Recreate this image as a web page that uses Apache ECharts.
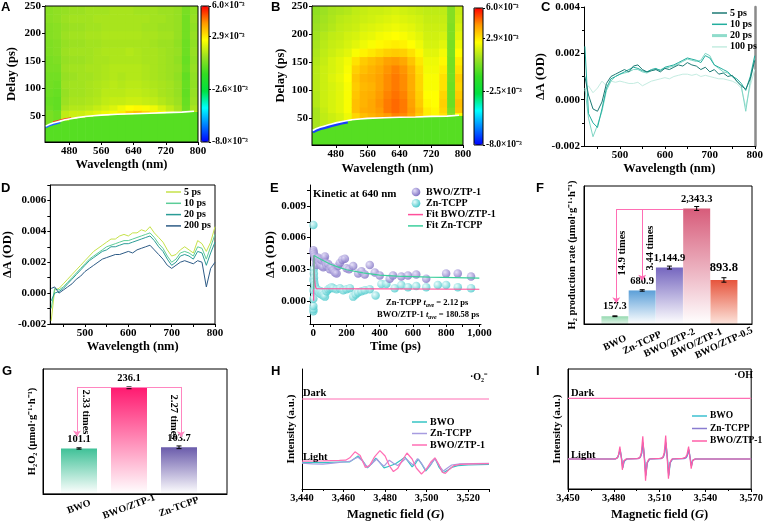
<!DOCTYPE html>
<html>
<head>
<meta charset="utf-8">
<script src="https://cdn.jsdelivr.net/npm/echarts@6/dist/echarts.min.js"></script>
<style>
html, body { margin: 0; padding: 0; background: #fff; }
#main { width: 766px; height: 522px; }
</style>
</head>
<body>
<div id="main"></div>
<script>
// ---------- data ----------
// A / B : transient absorption maps, values in 1e-3 OD
var heatWavelengthEdges = [420,440,460,480,500,520,540,560,580,600,620,640,660,680,700,720,740,760,780,800];
var chirpA = [34,38,42,45,47,49,50.5,51.5,52.5,53,53.5,54,54.5,55,55.5,56,56.5,57,58];
var chirpB = [31,35,40,43,46,48,49.5,50,50.5,51,51.5,52,52,52.5,53,53,53.5,54,55];
var belowChirpA = -0.4;
var belowChirpB = -0.4;
// top edge of each delay band above the chirp
var delayBands = [60,70,85,100,115,130,145,160,175,190,205,220,235,250];
var heatRowsA = [
  [0.2,0.0,1.4,1.6,1.6,1.8,2.0,2.2,2.4,2.8,3.3,3.6,3.2,2.8,2.4,1.8,1.2,0.2,1.5],
  [0.0,-0.2,1.0,1.2,1.2,1.3,1.5,1.7,1.9,2.2,2.5,2.6,2.4,2.2,1.8,1.4,1.0,0.0,1.0],
  [-0.1,-0.2,0.8,1.0,1.0,1.1,1.2,1.4,1.5,1.5,1.6,1.6,1.5,1.4,1.2,1.0,0.8,-0.1,0.8],
  [0.0,-0.1,0.7,0.9,0.9,1.0,1.1,1.3,1.3,1.3,1.4,1.4,1.3,1.2,1.0,0.9,0.7,-0.2,0.7],
  [0.1,0.0,0.8,0.9,0.9,1.0,1.1,1.2,1.3,1.2,1.3,1.3,1.2,1.1,1.0,0.9,0.7,-0.1,0.6],
  [0.1,0.1,0.7,0.8,0.9,0.9,1.0,1.1,1.2,1.1,1.2,1.2,1.1,1.0,0.9,0.8,0.6,-0.2,0.6],
  [0.2,0.2,0.8,0.9,0.9,1.0,1.0,1.1,1.2,1.2,1.2,1.2,1.1,1.0,0.9,0.8,0.7,0.0,0.7],
  [0.2,0.3,0.7,0.8,0.8,0.9,1.0,1.0,1.1,1.1,1.1,1.1,1.0,1.0,0.9,0.8,0.6,-0.1,0.6],
  [0.3,0.4,0.8,0.9,0.9,0.9,1.0,1.1,1.1,1.1,1.2,1.1,1.0,1.0,0.9,0.8,0.7,0.0,0.7],
  [0.3,0.4,0.7,0.8,0.8,0.9,0.9,1.0,1.0,1.0,1.0,1.0,1.0,0.9,0.8,0.8,0.6,0.0,0.6],
  [0.4,0.5,0.8,0.9,0.9,1.0,1.0,1.1,1.1,1.1,1.1,1.1,1.0,1.0,0.9,0.9,0.7,0.1,0.7],
  [0.4,0.5,0.7,0.8,0.8,0.9,0.9,1.0,1.0,1.0,1.0,1.0,0.9,0.9,0.8,0.8,0.7,0.1,0.6],
  [0.5,0.6,0.8,0.9,0.9,0.9,1.0,1.0,1.0,1.0,1.0,1.0,1.0,0.9,0.9,0.8,0.7,0.1,0.7],
  [0.5,0.6,0.7,0.8,0.8,0.9,0.9,0.9,1.0,1.0,1.0,0.9,0.9,0.9,0.8,0.8,0.7,0.2,0.6]
];
var heatRowsB = [
  [1.0,1.4,1.6,1.8,2.2,3.2,3.6,3.8,4.0,4.2,4.5,4.4,4.0,3.4,2.8,2.6,3.0,0.5,2.5],
  [1.0,1.5,1.8,2.0,2.4,3.6,3.9,4.0,4.2,4.6,4.8,4.6,4.2,3.6,2.8,2.6,3.2,0.2,3.5],
  [1.2,1.6,1.8,2.0,2.4,3.6,3.8,4.0,4.3,4.6,4.8,4.6,4.1,3.4,2.6,2.5,3.3,0.0,3.6],
  [1.2,1.6,1.8,2.0,2.4,3.5,3.8,3.9,4.2,4.5,4.7,4.5,4.0,3.3,2.5,2.5,3.2,0.0,3.4],
  [1.3,1.6,1.8,2.0,2.4,3.4,3.7,3.8,4.1,4.4,4.6,4.4,3.9,3.2,2.4,2.4,3.0,0.0,3.2],
  [1.3,1.6,1.9,2.1,2.5,3.5,3.8,3.9,4.1,4.4,4.6,4.4,3.9,3.2,2.4,2.4,3.0,0.1,3.3],
  [1.3,1.6,1.8,2.0,2.4,3.3,3.6,3.8,4.0,4.3,4.5,4.3,3.8,3.1,2.3,2.3,2.8,0.1,3.0],
  [1.2,1.5,1.8,2.0,2.3,3.0,3.4,3.6,3.8,4.1,4.2,4.0,3.5,2.9,2.2,2.2,2.6,0.1,2.8],
  [1.1,1.4,1.6,1.8,2.0,2.4,2.7,2.9,3.1,3.3,3.4,3.3,3.0,2.6,2.0,2.0,2.3,0.2,2.5],
  [1.0,1.3,1.5,1.6,1.8,2.0,2.2,2.4,2.6,2.7,2.8,2.7,2.5,2.2,1.8,1.8,2.0,0.2,2.2],
  [0.9,1.2,1.4,1.5,1.7,1.8,2.0,2.1,2.3,2.4,2.5,2.4,2.2,2.0,1.7,1.7,1.8,0.3,2.0],
  [0.8,1.0,1.2,1.4,1.5,1.6,1.8,1.9,2.0,2.1,2.2,2.1,2.0,1.8,1.6,1.6,1.6,0.3,1.8],
  [0.7,0.9,1.1,1.3,1.4,1.5,1.6,1.7,1.8,1.9,2.0,1.9,1.8,1.7,1.5,1.5,1.5,0.4,1.6],
  [0.6,0.8,1.0,1.1,1.2,1.4,1.5,1.6,1.6,1.7,1.8,1.7,1.6,1.5,1.4,1.4,1.4,0.4,1.5]
];
var chirpLineA = [[422,31],[430,34],[440,36.5],[450,38.5],[460,40.5],[470,42.5],[480,44],[500,46.5],[520,48.5],[540,50],[560,51],[600,52.5],[640,53.5],[680,54.5],[720,55.5],[760,56.5],[790,58]];
var chirpBlueA = [[422,29],[430,32],[440,34.5],[450,36.5],[458,38]];
var chirpRedA = [[440,38.5],[455,41.5],[470,44],[485,46]];
var chirpLineB = [[422,28],[430,31],[440,33.5],[450,35.5],[460,37.5],[470,39.5],[480,41.5],[500,44.5],[520,47],[540,48.5],[560,49.5],[600,50.5],[640,51.5],[680,52],[720,53],[760,53.5],[790,55]];
var chirpBlueB = [[422,25],[430,28],[440,30.5],[450,32.5],[460,34.5],[470,36.5],[480,38.5],[495,41],[510,43]];
var colorbarTicksA = [6, 2.9, -2.6, -8];
var colorbarTicksB = [6, 2.9, -2.5, -8];

// C / D : spectra, 1e-3 OD
var specWl = [422,430,440,450,460,470,480,490,500,510,520,530,540,550,560,570,580,590,600,610,620,630,640,650,660,670,680,690,700,710,720,730,740,750,760,770,780,790,800];
var c5ps   = [1.0,0.2,-0.4,-0.5,-0.1,0.7,1.0,1.1,1.2,1.3,1.2,1.45,1.5,1.3,1.2,1.25,1.3,1.2,1.35,1.3,1.4,1.5,1.45,1.6,1.5,1.45,1.3,1.4,1.2,1.3,1.1,1.15,1.0,1.05,0.8,0.6,0.45,0.9,1.7];
var c10ps  = [2.3,-0.6,-1.0,-1.2,-0.4,0.5,0.9,1.0,1.1,1.2,1.3,1.4,1.35,1.25,1.2,1.3,1.35,1.25,1.4,1.45,1.5,1.6,1.7,1.8,1.75,1.7,1.6,1.9,1.8,1.5,1.4,1.3,1.2,1.0,0.9,0.7,0.4,1.0,1.9];
var c20ps  = [0.5,-0.8,-1.6,-1.1,-0.5,0.4,0.8,1.0,1.1,1.15,1.2,1.3,1.3,1.2,1.15,1.25,1.3,1.3,1.35,1.4,1.45,1.55,1.65,1.75,1.7,1.65,1.7,2.0,1.9,1.5,1.35,1.2,1.15,1.0,0.8,0.6,-0.5,0.8,1.8];
var c100ps = [0.4,0.6,0.3,0.5,0.8,0.6,0.8,0.75,0.8,0.75,0.7,0.7,0.75,0.6,0.7,0.8,0.85,0.9,0.95,0.9,1.0,1.05,1.1,1.1,1.05,1.1,1.0,1.05,1.0,0.95,0.9,0.9,0.85,0.8,0.7,0.5,-0.3,0.6,1.3];
var d5ps   = [-1.8,0.2,0.3,0.6,0.9,1.2,1.5,1.8,2.1,2.4,2.7,2.9,3.1,3.3,3.5,3.5,3.7,3.8,3.7,3.9,3.9,4.1,4.0,4.3,3.9,3.6,3.3,2.8,2.4,2.5,2.8,3.0,2.8,2.6,3.4,3.2,2.7,3.3,4.3];
var d10ps  = [-1.0,0.3,0.2,0.4,0.7,1.0,1.3,1.6,1.9,2.2,2.4,2.6,2.8,3.0,3.1,3.2,3.3,3.4,3.4,3.5,3.6,3.7,3.8,3.9,3.6,3.2,2.9,2.4,2.0,2.2,2.6,2.7,2.6,2.4,3.0,2.9,2.2,3.0,3.8];
var d20ps  = [-0.5,0.0,0.1,0.3,0.6,0.9,1.2,1.5,1.8,2.1,2.3,2.5,2.7,2.8,3.0,3.0,3.1,3.2,3.2,3.3,3.4,3.5,3.6,3.7,3.4,3.0,2.7,2.2,1.8,2.0,2.4,2.5,2.4,2.2,2.7,2.6,1.8,2.6,3.3];
var d200ps = [0.3,0.4,0.0,0.2,0.4,0.6,0.9,1.1,1.4,1.6,1.8,2.0,2.2,2.3,2.4,2.5,2.5,2.6,2.7,2.6,2.8,2.9,3.0,3.1,2.8,2.5,2.2,1.8,1.6,1.8,2.0,2.1,2.0,1.9,2.1,2.0,0.4,1.6,2.0];

// E : kinetics at 640 nm, 1e-3 OD
var ztpTime = [0,2,5,8,12,16,20,25,30,35,40,45,50,55,60,65,70,75,80,90,100,110,120,130,140,150,160,175,190,200,215,240,270,290,310,340,370,400,460,480,530,570,620,680,800,870,950];
var ztpVal  = [4.8,4.6,4.4,4.2,4.0,3.6,3.4,3.9,4.1,3.7,3.5,3.9,3.3,3.8,3.2,4.0,4.2,3.6,3.3,3.5,3.0,3.2,2.9,2.7,2.6,3.3,3.6,3.9,4.0,3.1,3.0,3.3,2.6,2.8,2.5,3.4,2.7,2.4,2.1,2.4,2.3,2.4,2.5,2.1,2.6,2.6,2.3];
var znTime  = [0,0,0,0,0,0,0,2,3,4,5,8,12,16,20,25,30,35,40,45,50,55,60,65,70,80,90,100,110,120,140,160,180,200,220,240,255,270,290,310,340,375,410,440,490,530,570,620,680,750,800,870,950];
var znVal   = [7.2,-1.0,-0.8,-0.5,0.2,1.0,2.0,3.0,2.6,2.2,1.8,1.5,1.3,1.1,1.0,0.9,1.0,0.8,0.7,0.9,0.6,0.8,0.5,0.6,0.4,0.9,1.1,1.2,1.3,1.2,1.1,1.2,1.0,1.1,1.2,0.4,0.6,0.8,0.9,1.0,1.1,0.5,1.6,1.6,1.2,1.5,1.3,1.4,1.3,1.5,1.5,1.3,1.2];
var fitZtp = [[2,0],[3,4.3],[5,3.0],[8,2.0],[12,1.4],[18,1.15],[30,1.1],[1000,1.1]];
var fitZn  = [[3,1.1],[4,4.3],[50,3.9],[100,3.5],[150,3.2],[200,2.95],[300,2.65],[400,2.45],[500,2.35],[700,2.25],[1000,2.15]];

// F : H2 production rate
var h2Names  = ['BWO','Zn-TCPP','BWO/ZTP-2','BWO/ZTP-1','BWO/ZTP-0.5'];
var h2Rates  = [157.3, 680.9, 1144.9, 2343.3, 893.8];
var h2Errors = [8, 15, 30, 40, 45];
var h2Colors = [['#95d9b0','#e3f5ea'],['#5b9fd8','#ffffff'],['#7566bf','#ffffff'],['#d75c7a','#ffffff'],['#e6543c','#fce4dc']];

// G : H2O2 production
var h2o2Names  = ['BWO','BWO/ZTP-1','Zn-TCPP'];
var h2o2Rates  = [101.1, 236.1, 103.7];
var h2o2Errors = [1.5, 2, 3];
var h2o2Colors = [['#3fc197','#ffffff'],['#ff1a70','#ffffff'],['#6a5bab','#ffffff']];

// H : DMPO-O2- EPR (a.u.)
var hBWO = [[3440,22],[3450,22],[3458,22.5],[3463,22.6],[3465,25],[3467,27.6],[3469,24],[3471.5,17.6],[3473.5,21],[3475.5,25.7],[3477.5,22],[3479.5,17.6],[3482,19],[3485,21],[3487.5,24],[3489.5,26.5],[3491.5,22],[3493,18.5],[3494.5,21],[3496,25],[3497.5,21],[3499.5,15],[3501.5,19],[3504,25.7],[3506,18],[3508,13.6],[3510,15.5],[3512,18],[3515,19.5],[3520,20],[3530,20.5]];
var hZn = [[3440,21.5],[3445,21],[3450,20.8],[3455,21.5],[3460,22.5],[3463,23],[3465,25],[3467,26.5],[3469,23.5],[3471.5,18],[3473.5,21],[3476,25],[3478,21],[3479.5,19],[3482,24],[3484,21.5],[3486,19.5],[3488,22.5],[3490,25.5],[3492,22],[3493.5,20],[3495.5,25.2],[3497.5,21.5],[3499.5,16],[3501.5,19.5],[3504,25.3],[3506,19.5],[3508,15],[3510,17.5],[3512,20],[3516,21],[3522,21.2],[3530,21.3]];
var hZTP = [[3440,23.2],[3450,23.5],[3458,23.8],[3461,24],[3463,26],[3465.5,31],[3468,28],[3470.5,18],[3472.5,19.5],[3475,27],[3477.5,32],[3480,27.5],[3482,19.5],[3484,14.5],[3486,17],[3488,23],[3490.5,30],[3493,25],[3495,17.5],[3497.5,12.5],[3500,17],[3502,22.5],[3504,26],[3506,20],[3507.5,14],[3509,13],[3511,16.5],[3513,19.5],[3516,20.5],[3522,21],[3530,21.2]];
var hDark = [[3440,75],[3530,75]];

// I : DMPO-OH EPR (a.u.)
var iBWO = [[3450,25],[3481,25],[3482.5,26.5],[3483.3,29],[3484.2,32.6],[3485.2,25],[3485.9,17.5],[3486.8,23],[3488.5,25],[3496,25.5],[3497.5,27],[3498.3,30],[3499.2,38],[3500.2,25],[3501,11],[3502,22],[3503.5,25],[3511,25.5],[3512.5,27],[3513.3,30],[3514.2,38],[3515.2,25],[3516,11],[3517,22],[3518.5,25],[3526,25.5],[3527.5,26.5],[3528.3,28.5],[3529.2,32.6],[3530.2,25],[3530.9,19],[3531.8,24],[3533.5,25],[3570,25]];
var iZn = [[3450,25],[3481,25],[3482.5,26],[3483.3,29],[3484.1,33],[3485.1,25],[3485.8,18],[3486.7,23],[3488.5,25],[3496,25.3],[3497.5,26.5],[3498.3,30],[3499.1,39],[3500.1,25],[3500.9,12],[3501.9,22],[3503.5,25],[3511,25.3],[3512.5,26.5],[3513.3,30],[3514.1,39],[3515.1,25],[3515.9,12],[3516.9,22],[3518.5,25],[3526,25.3],[3527.5,26],[3528.3,28.5],[3529.1,33],[3530.1,25],[3530.8,19.5],[3531.7,24],[3533.5,25],[3570,25]];
var iZTP = [[3450,25],[3480,25],[3482,25.5],[3483,28],[3484,35.3],[3485,25],[3485.6,16],[3486.5,23.5],[3488,25],[3495,25.3],[3497,26],[3498,30],[3499,44],[3500,25],[3500.8,7],[3501.8,22],[3503,25],[3510,25.5],[3512,26],[3513,30],[3514,44.5],[3515,25],[3515.8,8.5],[3516.8,22],[3518,25],[3525,25.5],[3527,26.5],[3528,29],[3529,35.3],[3530,25],[3530.7,17],[3531.6,23.5],[3533,25],[3570,25]];
var iDark = [[3450,75.5],[3570,75.5]];

// ---------- styles ----------
var SERIF = '"Liberation Serif", "Times New Roman", serif';
var SANS = '"Liberation Sans", Arial, sans-serif';
var JET = ['#0000ff','#0080ff','#00ffff','#00e040','#33dd22','#99e022','#ffff00','#ff9900','#ff0000'];
var PINK = '#ff6eb4';

var chart = echarts.init(document.getElementById('main'));

function merge(a, o) {
  for (var k in o) {
    if (o[k] && typeof o[k] === 'object' && !Array.isArray(o[k]) && a[k] && typeof a[k] === 'object' && !Array.isArray(a[k])) {
      a[k] = merge(Object.assign({}, a[k]), o[k]);
    } else {
      a[k] = o[k];
    }
  }
  return a;
}

function axis(gi, o) {
  return merge({
    gridIndex: gi,
    type: 'value',
    axisLine: {show: true, onZero: false, lineStyle: {color: '#000', width: 1}},
    axisTick: {show: true, length: 3, lineStyle: {color: '#000', width: 1}},
    axisLabel: {color: '#000', fontFamily: SERIF, fontWeight: 'bold', fontSize: 11, margin: 4},
    splitLine: {show: false},
    nameLocation: 'middle',
    nameTextStyle: {color: '#000', fontFamily: SERIF, fontWeight: 'bold', fontSize: 12.5}
  }, o || {});
}

function od(v) { return (v / 1000).toFixed(3); }
function comma(v) { return v.toLocaleString('en-US'); }
function oneDec(v) { return v.toLocaleString('en-US', {minimumFractionDigits: 1, maximumFractionDigits: 1}); }
function cbarLabel(v) { return v.toFixed(1) + '×10⁻³'; }

function grid(l, t, w, h, box, z) {
  return {left: l, top: t, width: w, height: h, show: !!box, borderColor: '#000', borderWidth: 1, backgroundColor: 'transparent', z: z || 3};
}

// heat cells: [wlStart, wlEnd, delayStart, delayEnd, value]
function buildHeat(chirp, rows, below) {
  var out = [];
  for (var c = 0; c < heatWavelengthEdges.length - 1; c++) {
    var x0 = heatWavelengthEdges[c], x1 = heatWavelengthEdges[c + 1];
    out.push([x0, x1, 0, chirp[c], below]);
    for (var r = 0; r < delayBands.length; r++) {
      out.push([x0, x1, r === 0 ? chirp[c] : delayBands[r - 1], delayBands[r], rows[r][c]]);
    }
  }
  return out;
}

function heatItem(params, api) {
  var a = api.coord([api.value(0), api.value(3)]);
  var b = api.coord([api.value(1), api.value(2)]);
  return {
    type: 'rect',
    shape: {x: a[0], y: a[1], width: b[0] - a[0] + 0.6, height: b[1] - a[1] + 0.6},
    style: {fill: api.visual('color')}
  };
}

function errorItem(params, api) {
  var x = api.value(0), v = api.value(1), e = api.value(2);
  var hi = api.coord([x, v + e]), lo = api.coord([x, v - e]);
  var w = 2.5, st = {stroke: '#000', lineWidth: 1};
  return {type: 'group', children: [
    {type: 'line', shape: {x1: hi[0], y1: hi[1], x2: lo[0], y2: lo[1]}, style: st},
    {type: 'line', shape: {x1: hi[0] - w, y1: hi[1], x2: hi[0] + w, y2: hi[1]}, style: st},
    {type: 'line', shape: {x1: lo[0] - w, y1: lo[1], x2: lo[0] + w, y2: lo[1]}, style: st}
  ]};
}

function pairs(xs, ys) {
  return xs.map(function (x, i) { return [x, ys[i]]; });
}

function vgrad(top, bottom) {
  return {type: 'linear', x: 0, y: 0, x2: 0, y2: 1, colorStops: [{offset: 0, color: top}, {offset: 1, color: bottom}]};
}

function sphere(edge, light) {
  return {type: 'radial', x: 0.35, y: 0.35, r: 0.75, colorStops: [{offset: 0, color: light}, {offset: 1, color: edge}]};
}

function line(name, xi, data, color, width) {
  return {name: name, type: 'line', xAxisIndex: xi, yAxisIndex: xi, data: data, showSymbol: false, symbol: 'none',
          lineStyle: {color: color, width: width || 1}, clip: true, silent: true, animation: false};
}

// ---------- grids & axes ----------
var grids = [
  grid(45, 6, 153, 136, true),      // 0 A
  grid(201, 6, 8, 136, true, 10),   // 1 A colorbar
  grid(312, 6, 151, 139, true),     // 2 B
  grid(474, 8, 9, 137, true, 10),   // 3 B colorbar
  grid(584, 7, 172, 139, false),    // 4 C
  grid(45, 185, 170, 139, true),    // 5 D
  grid(310, 185, 171, 139, false),  // 6 E
  grid(584, 186, 168, 138, true),   // 7 F
  grid(43, 369, 184, 126, true),    // 8 G
  grid(302, 369, 187, 123, false),  // 9 H
  grid(568, 369, 188, 123, true)    // 10 I
];

var heatX = {min: 420, max: 800, axisLabel: {customValues: [480,560,640,720,800]}, axisTick: {customValues: [480,560,640,720,800]}, name: 'Wavelength (nm)'};
var heatY = {min: 2, max: 250, axisLabel: {customValues: [50,100,150,200,250]}, axisTick: {customValues: [50,100,150,200,250]}, name: 'Delay (ps)'};
var specTicks = [450,500,550,600,650,700,750,800];
var fieldRich = {i: {fontStyle: 'italic', fontFamily: SERIF, fontWeight: 'bold', fontSize: 12.5, color: '#000'}};

var xAxes = [
  axis(0, merge(Object.assign({}, heatX), {nameGap: 16})),
  axis(1, {show: false, min: 0, max: 1}),
  axis(2, merge(Object.assign({}, heatX), {nameGap: 17})),
  axis(3, {show: false, min: 0, max: 1}),
  axis(4, {min: 420, max: 800, axisLabel: {customValues: [500,600,700,800]}, axisTick: {customValues: specTicks}, name: 'Wavelength (nm)', nameGap: 16}),
  axis(5, {min: 420, max: 800, axisLabel: {customValues: [500,600,700,800]}, axisTick: {customValues: specTicks}, name: 'Wavelength (nm)', nameGap: 16}),
  axis(6, {min: -20, max: 1010, axisLabel: {customValues: [0,200,400,600,800,1000], formatter: comma}, axisTick: {customValues: [0,100,200,300,400,500,600,700,800,900,1000]}, name: 'Time (ps)', nameGap: 16}),
  axis(7, {min: -0.135, max: 6.03, axisTick: {show: false},
           axisLabel: {customValues: [1,2,3,4,5], rotate: 25, align: 'center', verticalAlign: 'middle', margin: 19, fontSize: 10,
                       formatter: function (v) { return h2Names[Math.round(v) - 1]; }}}),
  axis(8, {min: 0.28, max: 3.96, axisTick: {show: false},
           axisLabel: {customValues: [1,2,3], rotate: 20, align: 'center', verticalAlign: 'middle', margin: 13, fontSize: 10,
                       formatter: function (v) { return h2o2Names[Math.round(v) - 1]; }}}),
  axis(9, {min: 3440, max: 3530, interval: 20, axisLabel: {formatter: comma, fontSize: 10.5}, minorTick: {show: true, splitNumber: 2, length: 2, lineStyle: {color: '#000'}},
           name: 'Magnetic field ({i|G})', nameGap: 19, nameTextStyle: {rich: fieldRich}}),
  axis(10, {min: 3450, max: 3570, interval: 30, axisLabel: {formatter: comma, fontSize: 10.5}, minorTick: {show: true, splitNumber: 2, length: 2, lineStyle: {color: '#000'}},
            name: 'Magnetic field ({i|G})', nameGap: 19, nameTextStyle: {rich: fieldRich}})
];

var yAxes = [
  axis(0, merge(Object.assign({}, heatY), {nameGap: 27})),
  axis(1, {min: -8, max: 6, position: 'right', axisLine: {show: false}, axisTick: {customValues: colorbarTicksA, length: 2},
           axisLabel: {customValues: colorbarTicksA, formatter: cbarLabel, fontSize: 9.5, margin: 3}}),
  axis(2, merge(Object.assign({}, heatY), {nameGap: 25})),
  axis(3, {min: -8, max: 6, position: 'right', axisLine: {show: false}, axisTick: {customValues: colorbarTicksB, length: 2},
           axisLabel: {customValues: colorbarTicksB, formatter: cbarLabel, fontSize: 9.5, margin: 3}}),
  axis(4, {min: -2, max: 4, interval: 2, axisLabel: {formatter: od}, minorTick: {show: true, splitNumber: 2, length: 2, lineStyle: {color: '#000'}}, name: 'ΔA (OD)', nameGap: 31}),
  axis(5, {min: -2, max: 7, axisLabel: {customValues: [-2,0,2,4,6], formatter: od}, axisTick: {customValues: [-2,-1,0,1,2,3,4,5,6,7]}, name: 'ΔA (OD)', nameGap: 31}),
  axis(6, {min: -2.2, max: 11, axisLabel: {customValues: [0,3,6,9], formatter: od}, axisTick: {customValues: [-1.5,0,1.5,3,4.5,6,7.5,9,10.5]}, name: 'ΔA (OD)', nameGap: 28}),
  axis(7, {min: 0, max: 2800, axisLabel: {show: false}, axisTick: {show: false}, name: 'H₂ production rate (μmol·g⁻¹·h⁻¹)', nameGap: 6, nameTextStyle: {fontSize: 10.5}}),
  axis(8, {min: 0, max: 278, axisLabel: {show: false}, axisTick: {show: false}, name: 'H₂O₂ (μmol·g⁻¹·h⁻¹)', nameGap: 5, nameTextStyle: {fontSize: 10.5}}),
  axis(9, {min: 0, max: 100, axisLabel: {show: false}, axisTick: {show: false}, name: 'Intensity (a.u.)', nameGap: 5, nameTextStyle: {fontSize: 11}}),
  axis(10, {min: 0, max: 100, axisLabel: {show: false}, axisTick: {show: false}, name: 'Intensity (a.u.)', nameGap: 5, nameTextStyle: {fontSize: 11}}),
  // C: grey right edge
  axis(4, {min: -2, max: 4, position: 'right', axisLine: {lineStyle: {color: '#8a8a8a', width: 2.5}}, axisLabel: {show: false}, axisTick: {show: false}})
];

// ---------- series ----------
var series = [];
series.push({type: 'custom', xAxisIndex: 0, yAxisIndex: 0, renderItem: heatItem, data: buildHeat(chirpA, heatRowsA, belowChirpA),
             encode: {x: [0, 1], y: [2, 3]}, clip: true, silent: true, animation: false});
series.push({type: 'custom', xAxisIndex: 2, yAxisIndex: 2, renderItem: heatItem, data: buildHeat(chirpB, heatRowsB, belowChirpB),
             encode: {x: [0, 1], y: [2, 3]}, clip: true, silent: true, animation: false});
series.push(line('chirpBlueA', 0, chirpBlueA, '#1e6bff', 2.2));
series.push(line('chirpRedA', 0, chirpRedA, '#ff3a1a', 1.3));
series.push(line('chirpA', 0, chirpLineA, '#ffffff', 1.6));
series.push(line('chirpBlueB', 2, chirpBlueB, '#1a3dff', 2.8));
series.push(line('chirpB', 2, chirpLineB, '#ffffff', 1.6));

// C
series.push(line('C 100 ps', 4, pairs(specWl, c100ps), '#c4ece1', 1));
series.push(line('C 20 ps', 4, pairs(specWl, c20ps), '#7fd6c5', 1));
series.push(line('C 10 ps', 4, pairs(specWl, c10ps), '#22ae9e', 1));
series.push(line('C 5 ps', 4, pairs(specWl, c5ps), '#1d7a74', 1));
// D
series.push(line('D 5 ps', 5, pairs(specWl, d5ps), '#c6e24a', 1));
series.push(line('D 10 ps', 5, pairs(specWl, d10ps), '#5ccd98', 1));
series.push(line('D 20 ps', 5, pairs(specWl, d20ps), '#2a9c96', 1));
series.push(line('D 200 ps', 5, pairs(specWl, d200ps), '#2d5b86', 1));
// E
series.push({name: 'Zn-TCPP', type: 'scatter', xAxisIndex: 6, yAxisIndex: 6, data: pairs(znTime, znVal), symbolSize: 8.5,
             itemStyle: {color: sphere('#3cc3c6', '#e6fcfc')}, silent: true, animation: false});
series.push({name: 'BWO/ZTP-1', type: 'scatter', xAxisIndex: 6, yAxisIndex: 6, data: pairs(ztpTime, ztpVal), symbolSize: 8.5,
             itemStyle: {color: sphere('#7566bd', '#e2dcf8')}, silent: true, animation: false});
series.push(line('Fit BWO/ZTP-1', 6, fitZtp, '#ff4f9a', 1.2));
series.push(line('Fit Zn-TCPP', 6, fitZn, '#3ccf9c', 1.2));

// F
var barLabel = {show: true, position: 'top', distance: 4, color: '#000', fontFamily: SERIF, fontWeight: 'bold', fontSize: 10.5,
                formatter: function (p) { return oneDec(p.value[1]); }};
series.push({type: 'bar', xAxisIndex: 7, yAxisIndex: 7, barWidth: 27, silent: true, animation: false, label: barLabel,
             data: h2Rates.map(function (v, i) {
               var item = {value: [i + 1, v], itemStyle: {color: vgrad(h2Colors[i][0], h2Colors[i][1])}};
               if (i === 4) item.label = {fontSize: 12.5, distance: 6};
               return item;
             })});
series.push({type: 'custom', xAxisIndex: 7, yAxisIndex: 7, renderItem: errorItem, silent: true, animation: false, z: 4,
             data: h2Rates.map(function (v, i) { return [i + 1, v, h2Errors[i]]; })});
series.push({type: 'lines', coordinateSystem: 'cartesian2d', xAxisIndex: 7, yAxisIndex: 7, silent: true, animation: false, z: 5,
             lineStyle: {color: PINK, width: 1, opacity: 1}, symbol: 'none',
             data: [{coords: [[3.5, 2330], [1.05, 2330]]}]});
series.push({type: 'lines', coordinateSystem: 'cartesian2d', xAxisIndex: 7, yAxisIndex: 7, silent: true, animation: false, z: 5,
             lineStyle: {color: PINK, width: 1, opacity: 1}, symbol: ['none', 'arrow'], symbolSize: 6,
             data: [{coords: [[1.05, 2330], [1.05, 420]]}, {coords: [[2.0, 2330], [2.0, 880]]}]});

// G
series.push({type: 'bar', xAxisIndex: 8, yAxisIndex: 8, barWidth: 36, silent: true, animation: false, label: barLabel,
             data: h2o2Rates.map(function (v, i) {
               return {value: [i + 1, v], itemStyle: {color: vgrad(h2o2Colors[i][0], h2o2Colors[i][1])}};
             })});
series.push({type: 'custom', xAxisIndex: 8, yAxisIndex: 8, renderItem: errorItem, silent: true, animation: false, z: 4,
             data: h2o2Rates.map(function (v, i) { return [i + 1, v, h2o2Errors[i]]; })});
series.push({type: 'lines', coordinateSystem: 'cartesian2d', xAxisIndex: 8, yAxisIndex: 8, silent: true, animation: false, z: 5,
             lineStyle: {color: '#ff86c0', width: 1, opacity: 1}, symbol: 'none',
             data: [{coords: [[0.96, 238], [3.04, 238]]}]});
series.push({type: 'lines', coordinateSystem: 'cartesian2d', xAxisIndex: 8, yAxisIndex: 8, silent: true, animation: false, z: 5,
             lineStyle: {color: '#ff86c0', width: 1, opacity: 1}, symbol: ['none', 'arrow'], symbolSize: 6,
             data: [{coords: [[0.96, 238], [0.96, 128]]}, {coords: [[3.04, 238], [3.04, 126]]}]});

// H
series.push(line('H dark', 9, hDark, PINK, 1.2));
series.push(line('H BWO', 9, hBWO, '#36c4c4', 1.2));
series.push(line('H Zn', 9, hZn, '#a79ce0', 1.2));
series.push(line('H ZTP', 9, hZTP, PINK, 1.2));
// I
series.push(line('I dark', 10, iDark, PINK, 1.2));
series.push(line('I BWO', 10, iBWO, '#3cc0d0', 1.2));
series.push(line('I Zn', 10, iZn, '#8a7cd0', 1.2));
series.push(line('I ZTP', 10, iZTP, '#ff5fa8', 1.2));

// ---------- graphic: letters, legends, notes ----------
var g = [];
function txt(x, y, s, o) {
  g.push(merge({type: 'text', x: x, y: y, silent: true, z: 100,
    style: {text: s, fill: '#000', fontFamily: SERIF, fontWeight: 'bold', fontSize: 10.5, align: 'left', verticalAlign: 'middle'}}, o || {}));
}
function letter(x, y, s) {
  txt(x, y, s, {style: {fontFamily: SANS, fontSize: 13, verticalAlign: 'top'}});
}
function legend(x, y, dy, items) {
  items.forEach(function (it, i) {
    var yy = y + i * dy;
    if (it.dot) {
      g.push({type: 'circle', silent: true, z: 100, shape: {cx: x + 8, cy: yy, r: 4.3},
              style: {fill: new echarts.graphic.RadialGradient(0.35, 0.35, 0.75, [{offset: 0, color: it.light}, {offset: 1, color: it.color}])}});
    } else {
      g.push({type: 'line', silent: true, z: 100, shape: {x1: x, y1: yy, x2: x + 15, y2: yy}, style: {stroke: it.color, lineWidth: it.w || 1.5}});
    }
    txt(x + 18, yy, it.label, {style: {fontSize: it.fs || 10}});
  });
}

letter(1, 1, 'A'); letter(271, 1, 'B'); letter(541, 1, 'C');
letter(1, 182, 'D'); letter(270, 182, 'E'); letter(536, 182, 'F');
letter(2, 365, 'G'); letter(271, 365, 'H'); letter(536, 365, 'I');

legend(712, 13, 11.3, [
  {label: '5 ps', color: '#1d7a74'}, {label: '10 ps', color: '#22ae9e'},
  {label: '20 ps', color: '#8fdccb', w: 3}, {label: '100 ps', color: '#c4ece1'}]);
legend(166, 192, 11.3, [
  {label: '5 ps', color: '#c6e24a'}, {label: '10 ps', color: '#5ccd98'},
  {label: '20 ps', color: '#2a9c96'}, {label: '200 ps', color: '#2d5b86'}]);
legend(408, 192, 11.3, [
  {label: 'BWO/ZTP-1', dot: true, color: '#7566bd', light: '#e2dcf8'},
  {label: 'Zn-TCPP', dot: true, color: '#3cc3c6', light: '#e6fcfc'},
  {label: 'Fit BWO/ZTP-1', color: '#ff4f9a'}, {label: 'Fit Zn-TCPP', color: '#3ccf9c'}]);
legend(412, 422, 11.5, [
  {label: 'BWO', color: '#36c4c4'}, {label: 'Zn-TCPP', color: '#a79ce0'}, {label: 'BWO/ZTP-1', color: PINK}]);
legend(692, 416, 12.5, [
  {label: 'BWO', color: '#3cc0d0', fs: 9.5}, {label: 'Zn-TCPP', color: '#8a7cd0', fs: 9.5}, {label: 'BWO/ZTP-1', color: '#ff5fa8', fs: 9.5}]);

// E notes
txt(313, 194, 'Kinetic at 640 nm', {style: {fontSize: 11}});
var aveRich = {
  n: {fontFamily: SERIF, fontWeight: 'bold', fontSize: 8.5, fill: '#000'},
  i: {fontFamily: SERIF, fontWeight: 'bold', fontStyle: 'italic', fontSize: 8.5, fill: '#000'},
  s: {fontFamily: SERIF, fontWeight: 'bold', fontStyle: 'italic', fontSize: 6, fill: '#000', padding: [5, 0, 0, 0]}
};
txt(386, 303, '{n|Zn-TCPP }{i|t}{s|ave}{n| = 2.12 ps}', {style: {rich: aveRich}});
txt(377, 315, '{n|BWO/ZTP-1 }{i|t}{s|ave}{n| = 180.58 ps}', {style: {rich: aveRich}});

// F/G notes
txt(622, 253, '14.9 times', {rotation: Math.PI / 2, style: {align: 'center'}});
txt(650, 248, '3.44 times', {rotation: Math.PI / 2, style: {align: 'center'}});
txt(86, 412, '2.33 times', {rotation: -Math.PI / 2, style: {align: 'center'}});
txt(174, 417, '2.27 times', {rotation: -Math.PI / 2, style: {align: 'center'}});

// H/I notes
txt(303, 393, 'Dark'); txt(303, 457, 'Light'); txt(487, 377, '·O₂⁻', {style: {align: 'right', fontSize: 10}});
txt(571, 393, 'Dark'); txt(571, 455, 'Light'); txt(753, 375, '·OH', {style: {align: 'right', fontSize: 10}});

// ---------- option ----------
var option = {
  backgroundColor: '#fff',
  animation: false,
  grid: grids,
  xAxis: xAxes,
  yAxis: yAxes,
  visualMap: [
    {type: 'continuous', seriesIndex: 0, dimension: 4, min: -8, max: 6, left: 201, top: 6, itemWidth: 8, itemHeight: 136,
     padding: 0, calculable: false, hoverLink: false, inRange: {color: JET}},
    {type: 'continuous', seriesIndex: 1, dimension: 4, min: -8, max: 6, left: 474, top: 8, itemWidth: 9, itemHeight: 137,
     padding: 0, calculable: false, hoverLink: false, inRange: {color: JET}}
  ],
  series: series,
  graphic: {elements: g}
};

chart.setOption(option);
</script>
</body>
</html>
